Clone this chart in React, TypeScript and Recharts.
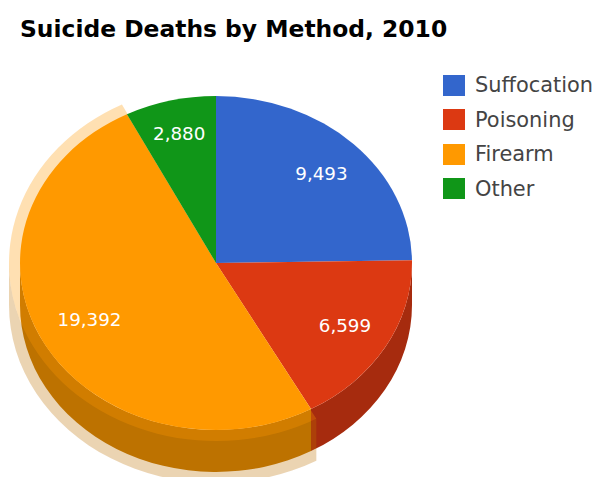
import React from 'react';
import { PieChart, Pie, Legend } from 'recharts';

const methods = ['Suffocation', 'Poisoning', 'Firearm', 'Other'];
const deaths = [9493, 6599, 19392, 2880];
const topColors = ['#3366CC', '#DC3912', '#FF9900', '#109618'];
const sideColors = ['#26499A', '#A62B0E', '#BD7200', '#0C700F'];
const highlighted = 'Firearm';

const rows = methods.map((name, i) => ({
  name,
  value: deaths[i],
  fill: topColors[i],
  side: sideColors[i],
}));

const CX = 216;
const CY = 263;
const RADIUS = 196;
const RY = 167;
const DEPTH = 42;
const HALO_RX = 207;
const HALO_RY = 178;

// small corrections so the value labels sit where the reference has them
const labelNudge: Record<string, number[]> = {
  Suffocation: [1, 1],
  Poisoning: [0, -1],
  Firearm: [5, -3],
  Other: [-2, -6],
};

const RAD = Math.PI / 180;

// recharts hands out a circular sector, the squash to an ellipse happens here
const edge = (cx: number, cy: number, rx: number, ry: number, deg: number) => ({
  x: cx + rx * Math.cos(deg * RAD),
  y: cy - ry * Math.sin(deg * RAD),
});

const topPath = (cx: number, cy: number, rx: number, ry: number, a: number, b: number) => {
  const hi = Math.max(a, b);
  const lo = Math.min(a, b);
  const p1 = edge(cx, cy, rx, ry, hi);
  const p2 = edge(cx, cy, rx, ry, lo);
  const large = hi - lo > 180 ? 1 : 0;
  return `M${cx},${cy}L${p1.x},${p1.y}A${rx},${ry} 0 ${large} 1 ${p2.x},${p2.y}Z`;
};

// wall of the slice, only the part that faces the viewer (angles -180..0)
const sidePath = (cx: number, cy: number, rx: number, ry: number, a: number, b: number) => {
  const hi = Math.min(Math.max(a, b), 0);
  const lo = Math.max(Math.min(a, b), -180);
  if (hi <= lo) return '';
  const p1 = edge(cx, cy, rx, ry, hi);
  const p2 = edge(cx, cy, rx, ry, lo);
  return `M${p1.x},${p1.y}A${rx},${ry} 0 0 1 ${p2.x},${p2.y}L${p2.x},${p2.y + DEPTH}A${rx},${ry} 0 0 0 ${p1.x},${p1.y + DEPTH}Z`;
};

const SideShape = (props: any) => {
  const { cx, cy, outerRadius, startAngle, endAngle, name, side } = props;
  return (
    <g>
      {name === highlighted && (
        <path d={sidePath(cx, cy, HALO_RX, HALO_RY, startAngle, endAngle)} fill={side} fillOpacity={0.3} />
      )}
      <path d={sidePath(cx, cy, outerRadius, RY, startAngle, endAngle)} fill={side} />
    </g>
  );
};

const HaloShape = (props: any) => {
  const { cx, cy, startAngle, endAngle, name, fill } = props;
  if (name !== highlighted) return <g />;
  return <path d={topPath(cx, cy, HALO_RX, HALO_RY, startAngle, endAngle)} fill={fill} fillOpacity={0.3} />;
};

const TopShape = (props: any) => {
  const { cx, cy, outerRadius, startAngle, endAngle, fill } = props;
  return <path d={topPath(cx, cy, outerRadius, RY, startAngle, endAngle)} fill={fill} />;
};

const renderLabel = (props: any) => {
  const { cx, cy, outerRadius, midAngle, value, name } = props;
  const p = edge(cx, cy, outerRadius * 0.76, RY * 0.76, midAngle);
  const [dx, dy] = labelNudge[name] ?? [0, 0];
  return (
    <text
      x={p.x + dx}
      y={p.y + dy}
      fill="#FFFFFF"
      fontSize={18.3}
      fontFamily="DejaVu Sans"
      textAnchor="middle"
      dominantBaseline="central"
    >
      {value.toLocaleString('en-US')}
    </text>
  );
};

const renderLegend = () => (
  <div>
    {rows.map((r) => (
      <div key={r.name} style={{ display: 'flex', alignItems: 'center', height: 34.5 }}>
        <span style={{ width: 22, height: 21, background: r.fill, marginRight: 10 }} />
        <span style={{ fontFamily: 'DejaVu Sans', fontSize: 20.9, color: '#444444' }}>{r.name}</span>
      </div>
    ))}
  </div>
);

export default function App() {
  const pieProps = {
    data: rows,
    dataKey: 'value',
    nameKey: 'name',
    cx: CX,
    cy: CY,
    outerRadius: RADIUS,
    startAngle: 90,
    endAngle: -270,
    stroke: 'none',
    isAnimationActive: false,
  };
  return (
    <div style={{ position: 'absolute', left: 0, top: 0, width: 594, height: 477, overflow: 'hidden', background: '#fff' }}>
      <div
        style={{
          position: 'absolute',
          left: 20,
          top: 15,
          fontFamily: 'DejaVu Sans',
          fontWeight: 'bold',
          fontSize: 23.4,
          color: '#000',
          whiteSpace: 'nowrap',
        }}
      >
        Suicide Deaths by Method, 2010
      </div>
      <PieChart width={594} height={477} margin={{ top: 0, right: 0, bottom: 0, left: 0 }}>
        <Pie {...pieProps} legendType="none" shape={SideShape} />
        <Pie {...pieProps} legendType="none" shape={HaloShape} />
        <Pie {...pieProps} shape={TopShape} label={renderLabel} labelLine={false} />
        <Legend
          layout="vertical"
          align="right"
          verticalAlign="top"
          content={renderLegend}
          wrapperStyle={{ left: 443, top: 68, width: 151, right: 'auto' }}
        />
      </PieChart>
    </div>
  );
}
